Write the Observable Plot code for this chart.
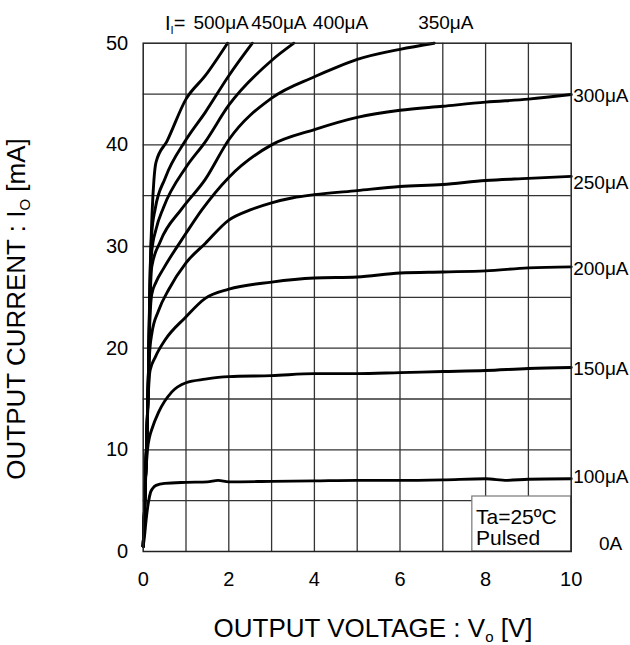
<!DOCTYPE html>
<html>
<head>
<meta charset="utf-8">
<script src="https://cdn.jsdelivr.net/npm/d3@7"></script>
<script src="https://cdn.jsdelivr.net/npm/@observablehq/plot@0.6"></script>
<style>
  html, body { margin: 0; padding: 0; background: #fff; }
  #chart { width: 630px; height: 645px; }
</style>
</head>
<body>
<div id="chart"></div>
<script>
// ---------- data ----------
const xTicks = [0, 2, 4, 6, 8, 10];
const yTicks = [0, 10, 20, 30, 40, 50];
const xGrid = [1, 2, 3, 4, 5, 6, 7, 8, 9];
const yGrid = [5, 10, 15, 20, 25, 30, 35, 40, 45];

const seriesNames = ["100μA", "150μA", "200μA", "250μA", "300μA", "350μA", "400μA", "450μA", "500μA"];

const v100 = [0, 0.03, 0.07, 0.12, 0.17, 0.22, 0.3, 0.5, 1, 1.5, 1.75, 2, 3, 4, 5, 6, 7, 8, 8.5, 9, 10];
const i100 = [0.5, 1.5, 3.2, 4.8, 5.8, 6.2, 6.5, 6.7, 6.8, 6.85, 7.0, 6.85, 6.9, 6.95, 7.0, 7.0, 7.05, 7.15, 7.0, 7.1, 7.15];

const v150 = [0, 0.03, 0.06, 0.1, 0.15, 0.2, 0.36, 0.67, 1, 1.45, 2, 3, 4, 5, 6, 7, 8, 9, 10];
const i150 = [0.5, 4, 7.5, 10, 11.3, 12, 13.7, 15.7, 16.6, 16.95, 17.2, 17.3, 17.5, 17.5, 17.6, 17.7, 17.8, 18.0, 18.1];

const v200 = [0, 0.03, 0.06, 0.09, 0.12, 0.16, 0.28, 0.51, 0.98, 1.45, 2, 3, 4, 5, 6, 7, 8, 9, 10];
const i200 = [0.5, 4, 8, 12, 15.5, 17.8, 19.1, 20.8, 23, 24.9, 25.8, 26.5, 26.9, 27.0, 27.4, 27.5, 27.6, 27.9, 28.0];

const v250 = [0, 0.03, 0.06, 0.09, 0.12, 0.15, 0.2, 0.36, 0.6, 1, 1.45, 2, 2.5, 3, 3.5, 4, 5, 6, 7, 8, 9, 10];
const i250 = [0.5, 4, 8, 12, 16, 19.5, 21.4, 23.7, 25.8, 28.4, 30.3, 32.6, 33.6, 34.3, 34.8, 35.1, 35.5, 35.9, 36.1, 36.5, 36.7, 36.9];

const v300 = [0, 0.03, 0.06, 0.09, 0.12, 0.15, 0.2, 0.3, 0.47, 1, 1.37, 2, 3, 4, 5, 6, 7, 8, 9, 10];
const i300 = [0.5, 4, 8, 12, 17, 22, 25.3, 26.5, 27.8, 31.3, 33.6, 36.8, 40, 41.5, 42.7, 43.4, 43.8, 44.2, 44.5, 44.95];

const v350 = [0, 0.03, 0.06, 0.09, 0.12, 0.15, 0.2, 0.4, 0.9, 1.45, 2, 3, 4, 4.5, 5, 6, 6.8];
const i350 = [0.5, 4, 8, 12, 17, 23, 28, 30.5, 33.7, 36.6, 40.5, 44.6, 46.7, 47.6, 48.4, 49.4, 50];

const v400 = [0, 0.03, 0.06, 0.09, 0.12, 0.15, 0.2, 0.3, 0.47, 1, 1.45, 2, 3, 3.52];
const i400 = [0.5, 4, 8, 12, 17, 24, 29.5, 31.7, 33.8, 37.8, 40.3, 43.9, 48.3, 50];

const v450 = [0, 0.03, 0.06, 0.09, 0.12, 0.15, 0.2, 0.28, 0.51, 1, 1.45, 2, 2.55];
const i450 = [0.5, 4, 8, 12, 17, 25, 31.3, 33.7, 36.7, 40.5, 43.2, 46.8, 50];

const v500 = [0, 0.03, 0.06, 0.09, 0.12, 0.16, 0.21, 0.25, 0.3, 0.56, 1, 1.45, 1.97];
const i500 = [0.5, 4, 8, 12, 17, 27, 33.5, 36.5, 38.3, 40.4, 44.5, 46.8, 50];

const seriesV = [v100, v150, v200, v250, v300, v350, v400, v450, v500];
const seriesI = [i100, i150, i200, i250, i300, i350, i400, i450, i500];

const rightLabels = ["300μA", "250μA", "200μA", "150μA", "100μA", "0A"];
const rightLabelV = [10, 10, 10, 10, 10, 10.6];
const rightLabelI = [44.85, 36.3, 27.8, 18.0, 7.3, 0.7];

const topLabels = ["500μA", "450μA", "400μA", "350μA"];
const topLabelV = [1.82, 3.17, 4.61, 7.07];
const topLabelI = [52.0, 52.0, 52.0, 52.0];

const legendLines = ["Ta=25ºC", "Pulsed"];

// ---------- build tables ----------
const curveRows = [];
seriesNames.forEach((name, k) => {
  seriesV[k].forEach((v, j) => curveRows.push({series: name, V: v, I: seriesI[k][j]}));
});
const rightRows = rightLabels.map((t, k) => ({t, V: rightLabelV[k], I: rightLabelI[k]}));
const topRows = topLabels.map((t, k) => ({t, V: topLabelV[k], I: topLabelI[k]}));

const W = 630, H = 645;
const mL = 142.7, mR = 59.3, mT = 42.7, mB = 94;

const plot = Plot.plot({
  width: W,
  height: H,
  marginLeft: mL,
  marginRight: mR,
  marginTop: mT,
  marginBottom: mB,
  style: {fontFamily: "'Liberation Sans', Arial, sans-serif", fontSize: "20px", color: "#000", background: "#fff", overflow: "visible"},
  x: {domain: [0, 10]},
  y: {domain: [0, 50]},
  marks: [
    Plot.ruleX(xGrid, {stroke: "#333", strokeWidth: 1.3}),
    Plot.ruleY(yGrid, {stroke: "#333", strokeWidth: 1.3}),
    Plot.rect([{x1: 7.69, x2: 10, y1: 0, y2: 5.41}], {x1: "x1", x2: "x2", y1: "y1", y2: "y2", fill: "#fff", stroke: "#777", strokeWidth: 1.2}),
    Plot.line(curveRows, {x: "V", y: "I", z: "series", stroke: "#000", strokeWidth: 2.9, curve: "monotone-x"}),
    Plot.frame({stroke: "#222", strokeWidth: 1.5}),
    Plot.axisX(xTicks, {tickSize: 0, tickPadding: 20, fontSize: 20, label: null}),
    Plot.axisY(yTicks, {tickSize: 0, tickPadding: 15, fontSize: 20, label: null}),
    Plot.text(rightRows, {x: "V", y: "I", text: "t", textAnchor: "start", dx: 2, fontSize: 19}),
    Plot.text(topRows, {x: "V", y: "I", text: "t", textAnchor: "middle", fontSize: 19})
  ]
});

document.getElementById("chart").appendChild(plot);

// ---------- text with subscripts ----------
const svg = d3.select(plot);
const font = "'Liberation Sans', Arial, sans-serif";

const prefix = svg.append("text")
  .attr("x", 165).attr("y", 30).attr("text-anchor", "start")
  .attr("font-family", font).attr("font-size", 20).attr("fill", "#000");
prefix.append("tspan").text("I");
prefix.append("tspan").attr("font-size", 11).attr("dy", 4).text("I");
prefix.append("tspan").attr("dy", -4).text("=");

const xt = svg.append("text")
  .attr("x", 373).attr("y", 637).attr("text-anchor", "middle")
  .attr("font-family", font).attr("font-size", 26).attr("fill", "#000");
xt.append("tspan").text("OUTPUT VOLTAGE : V");
xt.append("tspan").attr("font-size", 15).attr("dy", 5).text("o");
xt.append("tspan").attr("dy", -5).text(" [V]");

const yt = svg.append("text")
  .attr("transform", "translate(25,309) rotate(-90)").attr("text-anchor", "middle")
  .attr("font-family", font).attr("font-size", 26).attr("fill", "#000");
yt.append("tspan").text("OUTPUT CURRENT : I");
yt.append("tspan").attr("font-size", 15).attr("dy", 5).text("O");
yt.append("tspan").attr("dy", -5).text(" [mA]");

const lg = svg.append("g").attr("font-family", font).attr("font-size", 21).attr("fill", "#000").attr("text-anchor", "start");
legendLines.forEach((t, k) => {
  lg.append("text").attr("x", 476).attr("y", 524 + k * 21).text(t);
});
</script>
</body>
</html>
